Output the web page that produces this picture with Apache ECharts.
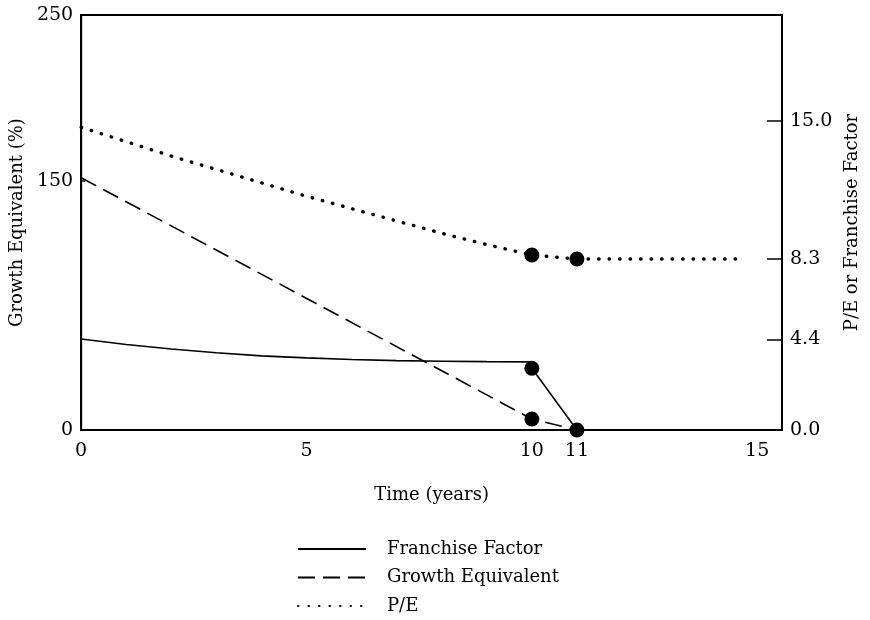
<!DOCTYPE html>
<html>
<head>
<meta charset="utf-8">
<script src="https://cdn.jsdelivr.net/npm/echarts@6/dist/echarts.min.js"></script>
<style>
html,body{margin:0;padding:0;background:#fff;}
#chart{width:870px;height:620px;}
</style>
</head>
<body>
<div id="chart"></div>
<script>
// ---- data ----
const xTickValues = [0, 5, 10, 11, 15];
const leftTickValues = [0, 150, 250];
const rightTickValues = [0, 4.4, 8.3, 15.0];

const franchiseX = [0, 1, 2, 3, 4, 5, 6, 7, 8, 9, 10, 10, 11];
const franchiseY = [4.42, 4.15, 3.93, 3.75, 3.60, 3.50, 3.42, 3.37, 3.34, 3.32, 3.31, 3.0, 0];

const growthX = [0, 10, 11];
const growthY = [152, 6.6, 0];

const peX = [0, 1, 2, 3, 4, 5, 6, 7, 8, 9, 10, 11, 12, 13, 14, 14.7];
const peY = [14.7, 14.0, 13.3, 12.65, 12.0, 11.35, 10.75, 10.15, 9.55, 9.0, 8.5, 8.3, 8.3, 8.3, 8.3, 8.3];

// highlighted points (right axis: P/E and franchise factor; left axis: growth)
const rightDotsX = [10, 11, 10, 11];
const rightDotsY = [8.5, 8.3, 3.0, 0];
const leftDotsX = [10];
const leftDotsY = [6.6];

const zip = (xs, ys) => xs.map((x, i) => [x, ys[i]]);
const FONT = 'DejaVu Serif';

const chart = echarts.init(document.getElementById('chart'), null, {renderer: 'canvas'});
chart.setOption({
  animation: false,
  backgroundColor: '#fff',
  textStyle: {fontFamily: FONT, color: '#000'},
  grid: {left: 80, right: 88, top: 15, bottom: 190, show: true, borderColor: '#000', borderWidth: 2},
  legend: {
    orient: 'vertical',
    left: 292,
    top: 535,
    height: 90,
    itemWidth: 68,
    itemHeight: 20,
    itemGap: 10.5,
    data: ['Franchise Factor', 'Growth Equivalent', 'P/E'],
    itemStyle: {color: 'rgba(0,0,0,0)', borderWidth: 0, opacity: 0},
    textStyle: {fontFamily: FONT, fontSize: 18, color: '#000', padding: [0, 0, 0, 16]}
  },
  xAxis: {
    type: 'value', min: 0, max: 15.55,
    name: 'Time (years)', nameLocation: 'middle', nameGap: 56,
    nameTextStyle: {fontFamily: FONT, fontSize: 18, color: '#000'},
    axisLine: {show: true, lineStyle: {color: '#000', width: 2}},
    axisTick: {show: false},
    splitLine: {show: false},
    axisLabel: {customValues: xTickValues, fontFamily: FONT, fontSize: 19, color: '#000', margin: 12,
      formatter: v => String(v)}
  },
  yAxis: [{
    type: 'value', min: 0, max: 250, position: 'left',
    name: 'Growth Equivalent (%)', nameLocation: 'middle', nameGap: 46, nameRotate: 90,
    nameTextStyle: {fontFamily: FONT, fontSize: 18, color: '#000'},
    axisLine: {show: true, lineStyle: {color: '#000', width: 2}},
    axisTick: {show: true, inside: true, length: 4, customValues: leftTickValues, lineStyle: {color: '#000', width: 1.5}},
    splitLine: {show: false},
    axisLabel: {customValues: leftTickValues, fontFamily: FONT, fontSize: 19, color: '#000', margin: 8,
      formatter: v => String(v)}
  }, {
    type: 'value', min: 0, max: 20.15, position: 'right',
    name: 'P/E or Franchise Factor', nameLocation: 'middle', nameGap: 52, nameRotate: 90,
    nameTextStyle: {fontFamily: FONT, fontSize: 18, color: '#000'},
    axisLine: {show: true, lineStyle: {color: '#000', width: 2}},
    axisTick: {show: true, inside: true, length: 15, customValues: rightTickValues, lineStyle: {color: '#000', width: 1.5}},
    splitLine: {show: false},
    axisLabel: {customValues: rightTickValues, fontFamily: FONT, fontSize: 19, color: '#000', margin: 8,
      formatter: v => v.toFixed(1)}
  }],
  series: [{
    name: 'Franchise Factor', type: 'line', yAxisIndex: 1,
    data: zip(franchiseX, franchiseY), symbol: 'none', smooth: false,
    lineStyle: {color: '#000', width: 1.6, type: 'solid'},
    itemStyle: {color: '#000'}
  }, {
    name: 'Growth Equivalent', type: 'line', yAxisIndex: 0,
    data: zip(growthX, growthY), symbol: 'none',
    lineStyle: {color: '#000', width: 1.6, type: [17, 8]},
    itemStyle: {color: '#000'}
  }, {
    name: 'P/E', type: 'line', yAxisIndex: 1,
    data: zip(peX, peY), symbol: 'none',
    lineStyle: {color: '#000', width: 3.4, type: [0.5, 10], cap: 'round'},
    itemStyle: {color: '#000'}
  }, {
    name: 'dotsRight', type: 'scatter', yAxisIndex: 1,
    data: zip(rightDotsX, rightDotsY), symbol: 'circle', symbolSize: 15,
    itemStyle: {color: '#000', opacity: 1}, clip: false, z: 5
  }, {
    name: 'dotsLeft', type: 'scatter', yAxisIndex: 0,
    data: zip(leftDotsX, leftDotsY), symbol: 'circle', symbolSize: 15,
    itemStyle: {color: '#000', opacity: 1}, clip: false, z: 5
  }]
});
</script>
</body>
</html>
